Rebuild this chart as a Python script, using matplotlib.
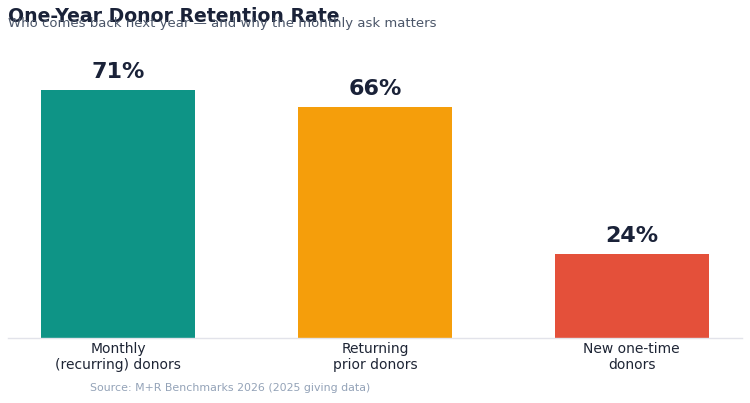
import matplotlib
matplotlib.use("Agg")
import matplotlib.pyplot as plt

# data
categories = ["Monthly\n(recurring) donors", "Returning\nprior donors", "New one-time\ndonors"]
retention = [71, 66, 24]
colors = ["#0e9486", "#f59e0b", "#e4503a"]

fig = plt.figure(figsize=(7.5, 4.03), dpi=100)
ax = fig.add_axes([8 / 750, 65 / 403, 734 / 750, 279.4 / 403])

x = range(len(categories))
bars = ax.bar(x, retention, width=0.6, color=colors)
ax.set_xlim(-0.43, 2.43)
ax.set_ylim(0, 80)

for b, v in zip(bars, retention):
    ax.annotate(f"{v}%", (b.get_x() + b.get_width() / 2, v),
                xytext=(0, 6), textcoords="offset points",
                ha="center", va="bottom", fontsize=16, fontweight="bold",
                color="#1a2238")

ax.set_xticks(list(x))
ax.set_xticklabels(categories, fontsize=10, color="#1e2535", linespacing=1.2)
ax.tick_params(axis="x", length=0, pad=3)
ax.set_yticks([])
for s in ["top", "right", "left"]:
    ax.spines[s].set_visible(False)
ax.spines["bottom"].set_color("#e2e3ea")
ax.spines["bottom"].set_linewidth(1)

fig.text(8 / 750, 1 - 17 / 403, "One-Year Donor Retention Rate", fontsize=13.6,
         fontweight="bold", color="#1a2238", va="center", ha="left")
fig.text(8 / 750, 1 - 24 / 403, "Who comes back next year \u2014 and why the monthly ask matters",
         fontsize=9.5, color="#4a5568", va="center", ha="left")
fig.text(90 / 750, 1 - 388 / 403, "Source: M+R Benchmarks 2026 (2025 giving data)",
         fontsize=7.9, color="#94a3b8", va="center", ha="left")

fig.savefig("out.png", dpi=100)
